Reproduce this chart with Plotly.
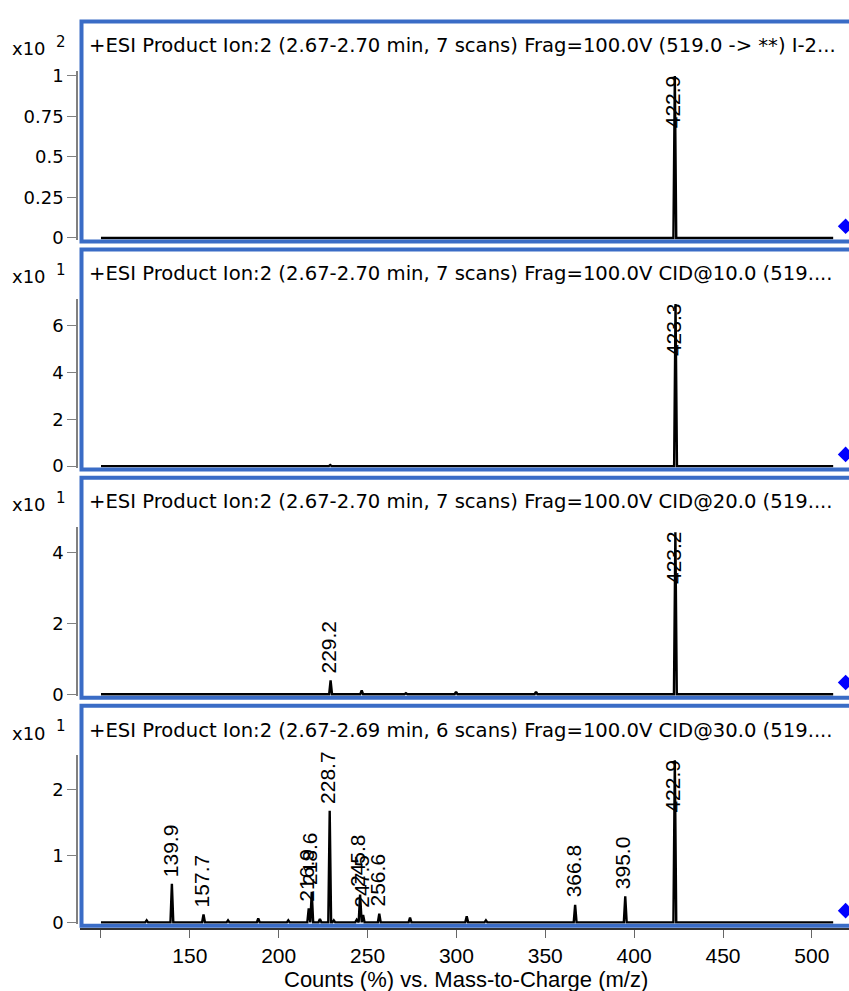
import plotly.graph_objects as go

# ---------------- data ----------------
MZ_MIN, MZ_MAX = 100.0, 512.0
PRECURSOR = 519.0

titles = [
    "+ESI Product Ion:2 (2.67-2.70 min, 7 scans) Frag=100.0V (519.0 -&gt; **) I-2...",
    "+ESI Product Ion:2 (2.67-2.70 min, 7 scans) Frag=100.0V CID@10.0 (519....",
    "+ESI Product Ion:2 (2.67-2.70 min, 7 scans) Frag=100.0V CID@20.0 (519....",
    "+ESI Product Ion:2 (2.67-2.69 min, 6 scans) Frag=100.0V CID@30.0 (519....",
]
exponents = ["2", "1", "1", "1"]

p1_mz = [422.9]
p1_h = [1.0]
p1_lab = ["422.9"]

p2_mz = [229.0, 423.3]
p2_h = [0.05, 6.92]
p2_lab = ["", "423.3"]

p3_mz = [229.2, 246.7, 271.6, 299.8, 344.8, 423.2]
p3_h = [0.39, 0.11, 0.03, 0.07, 0.07, 4.58]
p3_lab = ["229.2", "", "", "", "", "423.2"]

p4_mz = [125.7, 139.9, 157.7, 171.5, 188.5, 205.4, 216.9, 218.6, 223.2, 228.7,
         231.0, 243.9, 245.8, 247.5, 256.6, 273.9, 305.8, 316.6, 366.8, 395.0, 422.9]
p4_h = [0.03, 0.58, 0.12, 0.03, 0.06, 0.03, 0.21, 0.46, 0.05, 1.68,
        0.03, 0.04, 0.42, 0.11, 0.13, 0.07, 0.09, 0.03, 0.265, 0.39, 2.44]
p4_lab = ["", "139.9", "157.7", "", "", "", "216.9", "218.6", "", "228.7",
          "", "", "245.8", "247.5", "256.6", "", "", "", "366.8", "395.0", "422.9"]

p1_ticks = [0, 0.25, 0.5, 0.75, 1]
p1_ticktext = ["0", "0.25", "0.5", "0.75", "1"]
p2_ticks = [0, 2, 4, 6]
p2_ticktext = ["0", "2", "4", "6"]
p3_ticks = [0, 2, 4]
p3_ticktext = ["0", "2", "4"]
p4_ticks = [0, 1, 2]
p4_ticktext = ["0", "1", "2"]

x_ticks = [100, 150, 200, 250, 300, 350, 400, 450, 500]
x_ticktext = ["", "150", "200", "250", "300", "350", "400", "450", "500"]
x_title = "Counts (%) vs. Mass-to-Charge (m/z)"

panels = [
    (p1_mz, p1_h, p1_lab, p1_ticks, p1_ticktext),
    (p2_mz, p2_h, p2_lab, p2_ticks, p2_ticktext),
    (p3_mz, p3_h, p3_lab, p3_ticks, p3_ticktext),
    (p4_mz, p4_h, p4_lab, p4_ticks, p4_ticktext),
]

# ---------------- layout geometry ----------------
W, H = 849, 991
ML, MR, MT, MB = 77, 0, 0, 62
PW = W - ML - MR
PH = H - MT - MB
FONT = "Liberation Sans, Arial, sans-serif"
WIDE = "DejaVu Sans, sans-serif"
FRAME_COLOR = "#3a6cc6"


def pxx(p):
    return (p - ML) / PW


def pxy(p):
    return (H - MB - p) / PH


fig = go.Figure()
shapes = []
annotations = []
layout_axes = {}

HALF_W = 0.8

for i, (mz, hh, lab, tv, tt) in enumerate(panels):
    frame_top = 15.5 + 229.6 * i
    frame_bot = frame_top + 221.5
    zero_px = frame_bot - 3.5
    axis_top_px = frame_top + 50
    ymax = 1.03 * max(hh)
    scale = (zero_px - axis_top_px) / ymax

    yname = "y" if i == 0 else f"y{i + 1}"
    ykey = "yaxis" if i == 0 else f"yaxis{i + 1}"

    order = sorted(range(len(mz)), key=lambda k: mz[k])
    xs, ys = [MZ_MIN], [0.0]
    for k in order:
        xs += [mz[k] - HALF_W, mz[k], mz[k] + HALF_W]
        ys += [0.0, hh[k], 0.0]
    xs.append(MZ_MAX)
    ys.append(0.0)
    fig.add_trace(go.Scatter(x=xs, y=ys, mode="lines",
                             line=dict(color="black", width=2.4),
                             xaxis="x", yaxis=yname, hoverinfo="skip",
                             showlegend=False))
    fig.add_trace(go.Scatter(x=[PRECURSOR], y=[0.07 * ymax], mode="markers",
                             marker=dict(symbol="diamond", size=12, color="#0000ff"),
                             cliponaxis=False, xaxis="x", yaxis=yname,
                             showlegend=False, hoverinfo="skip"))

    layout_axes[ykey] = dict(
        domain=[pxy(zero_px + 2), pxy(axis_top_px)],
        range=[-2.0 / scale, ymax],
        anchor="free", position=0,
        showline=True, linecolor="#808080", linewidth=1.5,
        ticks="outside", ticklen=9, tickcolor="#808080", tickwidth=1.2,
        tickvals=tv, ticktext=tt,
        tickfont=dict(family=WIDE, size=18, color="black"),
        showgrid=False, zeroline=False, fixedrange=True,
    )

    shapes.append(dict(type="rect", xref="paper", yref="paper",
                       x0=pxx(81.5), x1=pxx(853), y0=pxy(frame_bot), y1=pxy(frame_top),
                       line=dict(color=FRAME_COLOR, width=4),
                       fillcolor="rgba(0,0,0,0)", layer="above"))
    annotations.append(dict(text=titles[i], xref="paper", yref="paper",
                            x=pxx(87), y=pxy(frame_top + 24.5),
                            xanchor="left", yanchor="middle", showarrow=False,
                            font=dict(family=WIDE, size=19.6, color="black")))
    annotations.append(dict(text="x10", xref="paper", yref="paper",
                            x=pxx(48), y=pxy(frame_top + 27.5),
                            xanchor="right", yanchor="middle", showarrow=False,
                            font=dict(family=WIDE, size=18, color="black")))
    annotations.append(dict(text=exponents[i], xref="paper", yref="paper",
                            x=pxx(54), y=pxy(frame_top + 20.5),
                            xanchor="left", yanchor="middle", showarrow=False,
                            font=dict(family=WIDE, size=15, color="black")))
    base = max(hh)
    for k in range(len(mz)):
        if not lab[k]:
            continue
        is_base = hh[k] == base
        annotations.append(dict(text=lab[k], xref="x", yref=yname,
                                x=mz[k], y=hh[k], textangle=-90,
                                xanchor="center",
                                yanchor="top" if is_base else "bottom",
                                yshift=3 if is_base else 5,
                                xshift=-2, showarrow=False,
                                font=dict(family=FONT, size=21, color="black")))

annotations.append(dict(text=x_title, xref="paper", yref="paper",
                        x=pxx(466), y=pxy(980), xanchor="center", yanchor="middle",
                        showarrow=False, font=dict(family=FONT, size=22, color="black")))

fig.update_layout(
    width=W, height=H,
    margin=dict(l=ML, r=MR, t=MT, b=MB),
    paper_bgcolor="white", plot_bgcolor="white",
    showlegend=False,
    xaxis=dict(domain=[pxx(80), 1], range=[88.2, 520.9],
               anchor="free", position=0,
               showline=True, linecolor="#333333", linewidth=1.5,
               ticks="outside", ticklen=8, tickcolor="#666666", tickwidth=1.2,
               tickvals=x_ticks, ticktext=x_ticktext,
               tickfont=dict(family=FONT, size=21, color="black"),
               showgrid=False, zeroline=False, fixedrange=True),
    shapes=shapes,
    annotations=annotations,
    **layout_axes,
)

fig.write_html("out.html",
               config={"displayModeBar": False},
               post_script="document.body.style.margin='0';document.body.style.overflow='hidden';")
